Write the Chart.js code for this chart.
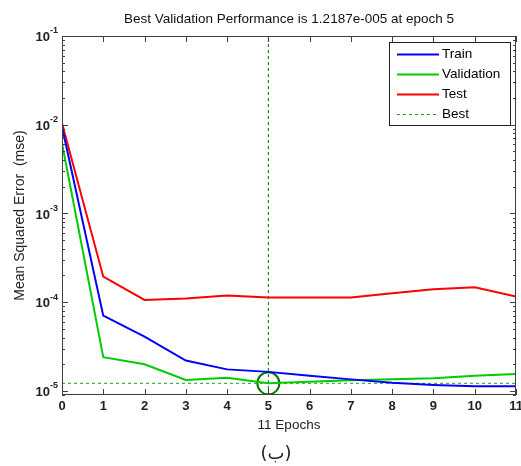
<!DOCTYPE html>
<html lang="en">
<head>
<meta charset="UTF-8">
<title>Best Validation Performance</title>
<script src="https://cdn.jsdelivr.net/npm/chart.js"></script>
<style>
  body { margin: 0; background: #fff; }
  .wrap { position: relative; width: 521px; height: 466px; }
  #caption {
    position: absolute; left: 236px; width: 80px; top: 442px;
    text-align: center; font-family: 'DejaVu Sans', sans-serif; font-size: 18px; color: #222;
  }
</style>
</head>
<body>
<div class="wrap">
  <canvas id="perf" width="521" height="466"></canvas>
  <div id="caption">(ب)</div>
</div>
<script>
const epochs = [0, 1, 2, 3, 4, 5, 6, 7, 8, 9, 10, 11];
const trainMse = [9.5e-3, 7.05e-5, 4.1e-5, 2.2e-5, 1.75e-5, 1.64e-5, 1.48e-5, 1.35e-5, 1.24e-5, 1.17e-5, 1.13e-5, 1.13e-5];
const validationMse = [6.2e-3, 2.4e-5, 2.0e-5, 1.33e-5, 1.41e-5, 1.2187e-5, 1.27e-5, 1.32e-5, 1.35e-5, 1.39e-5, 1.48e-5, 1.55e-5];
const testMse = [1.04e-2, 1.94e-4, 1.06e-4, 1.1e-4, 1.19e-4, 1.13e-4, 1.13e-4, 1.13e-4, 1.26e-4, 1.4e-4, 1.47e-4, 1.16e-4];
const bestEpoch = 5;
const bestMse = 1.2187e-5;
const yTickValues = [1e-5, 1e-4, 1e-3, 1e-2, 1e-1];
const yTickExps = ['-5', '-4', '-3', '-2', '-1'];
const yMin = 9e-6, yMax = 1e-1;

const FONT = "'Liberation Sans', Arial, sans-serif";
const TXT = '#222';
const toPts = arr => epochs.map((e, i) => ({ x: e, y: arr[i] }));

// inward ticks + box, like the matlab axes
const boxPlugin = {
  id: 'box',
  afterDatasetsDraw(chart) {
    const { ctx, chartArea: a } = chart;
    const xs = chart.scales.x, ys = chart.scales.y;
    ctx.save();
    ctx.strokeStyle = '#404040';
    ctx.lineWidth = 1;
    ctx.strokeRect(a.left + 0.5, a.top + 0.5, a.right - a.left - 1, a.bottom - a.top - 1);
    ctx.beginPath();
    for (let e = -6; e <= -1; e++) {
      for (let m = 1; m <= 9; m++) {
        const v = m * Math.pow(10, e);
        if (v < yMin || v > yMax) continue;
        const py = Math.round(ys.getPixelForValue(v)) + 0.5;
        const len = m === 1 ? 6 : 3;
        ctx.moveTo(a.left, py); ctx.lineTo(a.left + len, py);
        ctx.moveTo(a.right, py); ctx.lineTo(a.right - len, py);
      }
    }
    xs.ticks.forEach(t => {
      const px = Math.round(xs.getPixelForValue(t.value)) + 0.5;
      ctx.moveTo(px, a.top); ctx.lineTo(px, a.top + 6);
      ctx.moveTo(px, a.bottom); ctx.lineTo(px, a.bottom - 6);
    });
    ctx.stroke();

    // exponents next to the "10" tick labels
    ctx.fillStyle = TXT;
    ctx.font = 'bold 9px ' + FONT;
    ctx.textAlign = 'left';
    ctx.textBaseline = 'middle';
    yTickValues.forEach((v, i) => {
      ctx.fillText(yTickExps[i], a.left - 12, ys.getPixelForValue(v) - 5);
    });
    ctx.restore();
  }
};

const legendPlugin = {
  id: 'boxLegend',
  afterDraw(chart) {
    const { ctx, chartArea: a } = chart;
    const items = chart.data.datasets.filter(d => d.inLegend);
    const w = 121, h = 83;
    const x0 = a.right - 6 - w, y0 = a.top + 6;
    ctx.save();
    ctx.fillStyle = '#fff';
    ctx.fillRect(x0, y0, w, h);
    ctx.strokeStyle = '#222';
    ctx.lineWidth = 1;
    ctx.strokeRect(x0 + 0.5, y0 + 0.5, w, h);
    ctx.font = '13.5px ' + FONT;
    ctx.textBaseline = 'middle';
    items.forEach((d, i) => {
      const y = y0 + 12.5 + i * 20;
      ctx.beginPath();
      ctx.strokeStyle = d.borderColor;
      ctx.lineWidth = d.borderDash ? 1 : 2;
      ctx.setLineDash(d.borderDash || []);
      ctx.moveTo(x0 + 8, y); ctx.lineTo(x0 + 50, y);
      ctx.stroke();
      ctx.setLineDash([]);
      ctx.fillStyle = '#000';
      ctx.fillText(d.label, x0 + 53, y);
    });
    ctx.restore();
  }
};

new Chart(document.getElementById('perf'), {
  type: 'line',
  data: {
    datasets: [
      { label: 'Train', inLegend: true, data: toPts(trainMse), borderColor: '#0000ff', borderWidth: 2 },
      { label: 'Validation', inLegend: true, data: toPts(validationMse), borderColor: '#00cc00', borderWidth: 2 },
      { label: 'Test', inLegend: true, data: toPts(testMse), borderColor: '#ff0000', borderWidth: 2 },
      { label: 'Best', inLegend: true, data: [{ x: 0, y: bestMse }, { x: 11, y: bestMse }],
        borderColor: '#22a022', borderWidth: 1, borderDash: [3, 3] },
      { label: 'best epoch', data: [{ x: bestEpoch, y: yMin }, { x: bestEpoch, y: yMax }],
        borderColor: '#007a00', borderWidth: 1, borderDash: [3, 3] },
      { label: 'best point', data: [{ x: bestEpoch, y: bestMse }], showLine: false,
        pointRadius: 11, pointBorderWidth: 2, pointBorderColor: '#007a00', pointBackgroundColor: 'rgba(0,0,0,0)' }
    ]
  },
  options: {
    responsive: false,
    animation: false,
    devicePixelRatio: 1,
    layout: { autoPadding: false, padding: { left: 0, right: 5, top: 0, bottom: 31 } },
    elements: { point: { radius: 0 }, line: { tension: 0 } },
    plugins: {
      legend: { display: false },
      tooltip: { enabled: false },
      title: {
        display: true,
        fullSize: false,
        text: 'Best Validation Performance is 1.2187e-005 at epoch 5',
        color: '#111',
        font: { family: FONT, size: 13.5, weight: 'normal' },
        padding: { top: 11, bottom: 8.8 }
      }
    },
    scales: {
      x: {
        type: 'linear', min: 0, max: 11,
        afterFit(s) { s.height = 40; s.paddingLeft = 0; s.paddingRight = 0; },
        grid: { display: false, drawTicks: false },
        border: { display: false },
        ticks: { stepSize: 1, padding: 4, color: TXT, font: { family: FONT, size: 13, weight: 'bold' } },
        title: { display: true, text: '11 Epochs', color: TXT, font: { family: FONT, size: 13.5 }, padding: { top: 2, bottom: 1.5 } }
      },
      y: {
        type: 'logarithmic', min: yMin, max: yMax,
        afterFit(s) { s.width = 62; s.paddingTop = 0; s.paddingBottom = 0; },
        afterBuildTicks(s) { s.ticks = yTickValues.map(v => ({ value: v })); },
        grid: { display: false, drawTicks: false },
        border: { display: false },
        ticks: {
          autoSkip: false, padding: 12, labelOffset: 1.5, color: TXT,
          font: { family: FONT, size: 13, weight: 'bold' },
          callback: () => '10'
        },
        title: { display: true, text: 'Mean Squared Error  (mse)', color: TXT, font: { family: FONT, size: 14 }, padding: { top: 11.6, bottom: 2 } }
      }
    }
  },
  plugins: [boxPlugin, legendPlugin]
});
</script>
</body>
</html>
